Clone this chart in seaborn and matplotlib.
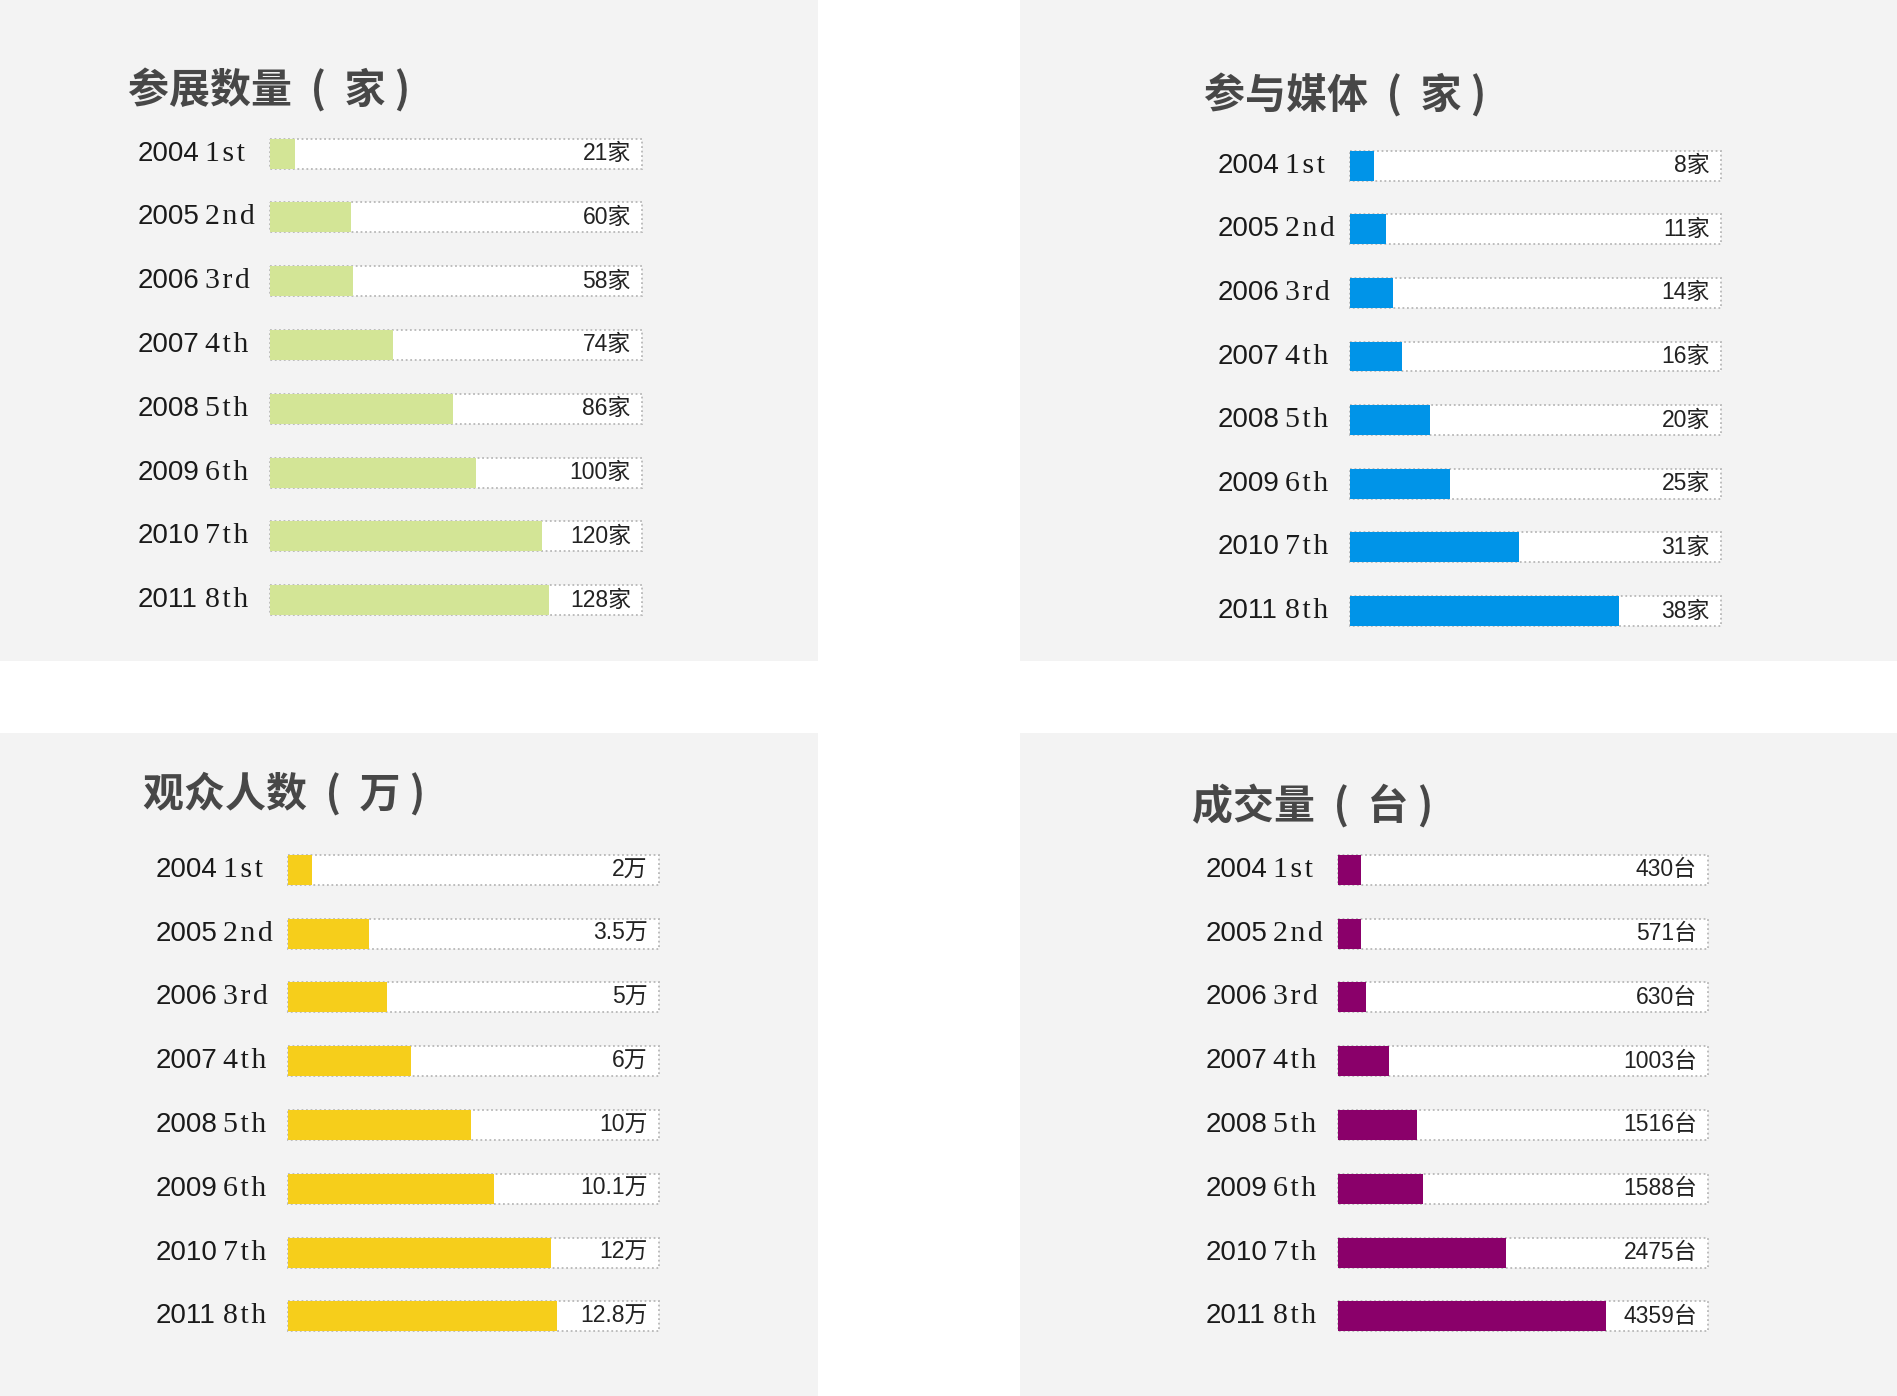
import matplotlib
matplotlib.use("Agg")
import matplotlib.pyplot as plt
import seaborn as sns
import pandas as pd
from matplotlib.patches import Rectangle

# ---------------- data ----------------
years = ["2004", "2005", "2006", "2007", "2008", "2009", "2010", "2011"]
ordinals = ["1st", "2nd", "3rd", "4th", "5th", "6th", "7th", "8th"]

# value labels printed on the chart
exhibitors_labels = ["21家", "60家", "58家", "74家", "86家", "100家", "120家", "128家"]
media_labels = ["8家", "11家", "14家", "16家", "20家", "25家", "31家", "38家"]
visitors_labels = ["2万", "3.5万", "5万", "6万", "10万", "10.1万", "12万", "12.8万"]
deals_labels = ["430台", "571台", "630台", "1003台", "1516台", "1588台", "2475台", "4359台"]

# bar lengths as drawn in the picture (percent of the white track)
exhibitors_bar = [6.7, 21.8, 22.3, 33.0, 49.3, 55.5, 73.2, 74.9]
media_bar = [6.5, 9.8, 11.6, 13.9, 21.6, 27.0, 45.5, 72.5]
visitors_bar = [6.4, 21.7, 26.6, 33.1, 49.2, 55.6, 70.9, 72.6]
deals_bar = [6.3, 6.3, 7.6, 13.8, 21.4, 23.0, 45.5, 72.5]
track_full = 100

titles = ["参展数量  (  家 )", "参与媒体  (  家 )", "观众人数  (  万 )", "成交量  (  台 )"]
colors = ["#d3e596", "#0094e8", "#f6ce1b", "#8a006a"]

# ---------------- layout ----------------
W, H = 1897, 1396
fig = plt.figure(figsize=(W / 100, H / 100), dpi=100)
fig.patch.set_facecolor("white")
plt.rcParams["font.family"] = ["Liberation Sans", "Noto Sans CJK SC"]

panel_rects = [(0, 0, 818, 661), (1020, 0, 1897, 661),
               (0, 733, 818, 1396), (1020, 733, 1897, 1396)]
# axes rect (track left, track right, first row centre, last row centre) in px
axes_rects = [(270, 642, 153.6, 600.1), (1350, 1721, 165.7, 611.0),
              (288, 659, 869.8, 1316.3), (1338, 1708, 869.8, 1316.3)]
title_pos = [(128, 91), (1204, 96), (143, 794), (1192, 806)]

for (x0, y0, x1, y1) in panel_rects:
    fig.add_artist(Rectangle((x0 / W, 1 - y1 / H), (x1 - x0) / W, (y1 - y0) / H,
                             transform=fig.transFigure, facecolor="#f3f3f3",
                             edgecolor="none", zorder=0))

datasets = [(exhibitors_bar, exhibitors_labels), (media_bar, media_labels),
            (visitors_bar, visitors_labels), (deals_bar, deals_labels)]

HS = "\u200a"  # hair space to mimic the wide letter spacing of the ordinals

for i, ((bars, labels), color) in enumerate(zip(datasets, colors)):
    xl, xr, yt, yb = axes_rects[i]
    step = (yb - yt) / 7
    top = yt - step / 2
    bottom = yb + step / 2
    ax = fig.add_axes([xl / W, 1 - bottom / H, (xr - xl) / W, (bottom - top) / H])
    ax.set_facecolor("none")
    sessions = [f"{y} {o}" for y, o in zip(years, ordinals)]
    df = pd.DataFrame({"session": sessions, "bar": bars,
                       "track": [track_full] * len(bars)})
    sns.barplot(data=df, x="track", y="session", color="white", saturation=1,
                edgecolor="#b8b8b8", linewidth=1.3, linestyle=(0, (1, 1.5)),
                width=0.47, errorbar=None, ax=ax)
    sns.barplot(data=df, x="bar", y="session", color=color, saturation=1,
                linewidth=0, width=0.47, errorbar=None, ax=ax)
    for p in ax.patches:
        p.set_clip_on(False)
    ax.set_xlim(0, track_full)
    ax.set_ylim(7.5, -0.5)
    ax.axis("off")
    tr = ax.get_yaxis_transform()
    for k in range(len(bars)):
        ax.text(-0.357, k, years[k], transform=tr, ha="left", va="center",
                fontsize=20, color="#1a1a1a", family=["Liberation Sans"])
        ax.text(-0.175, k, HS.join(ordinals[k]), transform=tr, ha="left",
                va="center", fontsize=21.5, color="#1a1a1a",
                family=["Liberation Serif", "DejaVu Serif"])
        ax.text(0.97, k, labels[k], transform=tr, ha="right", va="center",
                fontsize=16.5, color="#222222",
                family=["Liberation Sans", "Noto Sans CJK SC"])
    tx, ty = title_pos[i]
    fig.text(tx / W, 1 - ty / H, titles[i], ha="left", va="center",
             fontsize=29.5, fontweight="bold", color="#474747",
             family=["Noto Sans CJK SC", "DejaVu Sans"])

fig.savefig("out.png", dpi=100, facecolor="white")
